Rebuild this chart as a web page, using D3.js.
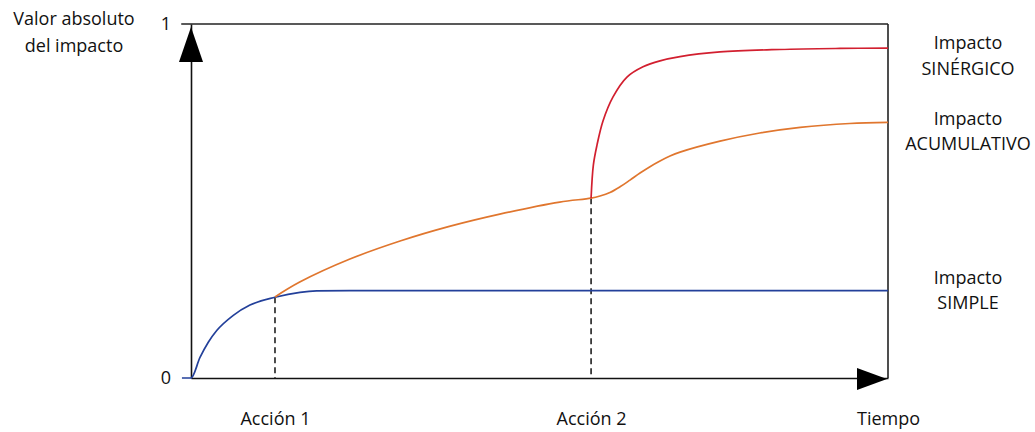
<!DOCTYPE html>
<html>
<head>
<meta charset="utf-8">
<script src="https://d3js.org/d3.v7.min.js"></script>
<style>
  html, body { margin: 0; padding: 0; background: #fff; }
  svg text { font-family: "Open Sans", "Lato", sans-serif; fill: #111; }
</style>
</head>
<body>
<svg id="chart" width="1035" height="432"></svg>
<script>
// Time axis runs 0..100; impact is normalised 0..1
const actions = [
  { label: "Acción 1", t: 12.05 },
  { label: "Acción 2", t: 57.4 }
];
const timeLabel = "Tiempo";

// Impacto SIMPLE
const simpleT = [-1.3, 0, 1.29, 2.48, 3.69, 6.07, 8.46, 12.05, 15.64, 18.03, 22.8, 100];
const simpleV = [0, 0, 0.058, 0.101, 0.134, 0.177, 0.206, 0.228, 0.242, 0.246, 0.247, 0.247];

// Impacto ACUMULATIVO
const cumulT = [12.05, 15.6, 22.8, 30.0, 37.2, 44.3, 52.9, 57.4, 58.68, 60.11, 61.55, 62.98, 64.42, 65.85, 67.29, 68.72, 70.16, 75.9, 81.6, 87.4, 94.5, 100];
const cumulV = [0.229, 0.271, 0.336, 0.387, 0.429, 0.463, 0.497, 0.508, 0.514, 0.524, 0.540, 0.559, 0.579, 0.597, 0.613, 0.627, 0.638, 0.669, 0.692, 0.708, 0.719, 0.722];

// Impacto SINÉRGICO
const synT = [57.4, 57.73, 58.25, 59.11, 60.55, 62.55, 64.85, 67.29, 70.16, 75.9, 84.5, 93.1, 100];
const synV = [0.508, 0.602, 0.658, 0.726, 0.794, 0.850, 0.879, 0.896, 0.908, 0.921, 0.928, 0.931, 0.932];

const yTicks = [0, 1];
const seriesLabels = [
  { lines: ["Impacto", "SINÉRGICO"], color: "#d21f2f", t: synT, v: synV, curve: d3.curveCatmullRom.alpha(0.5) },
  { lines: ["Impacto", "ACUMULATIVO"], color: "#e0762e", t: cumulT, v: cumulV, curve: d3.curveCatmullRom.alpha(0.5) },
  { lines: ["Impacto", "SIMPLE"], color: "#23409a", t: simpleT, v: simpleV, curve: d3.curveMonotoneX }
];
const yTitle = ["Valor absoluto", "del impacto"];

const svg = d3.select("#chart");
const x = d3.scaleLinear().domain([0, 100]).range([191, 888]);
const y = d3.scaleLinear().domain([0, 1]).range([378, 24]);

const fontSize = 18;
const fontFamily = "'Open Sans', Lato, sans-serif";

// Frame: top and right edges
svg.append("line")
  .attr("x1", x(-1.4)).attr("x2", x(100))
  .attr("y1", y(1)).attr("y2", y(1))
  .attr("stroke", "#222").attr("stroke-width", 1.6);
svg.append("line")
  .attr("x1", x(100)).attr("x2", x(100))
  .attr("y1", y(1)).attr("y2", y(0))
  .attr("stroke", "#222").attr("stroke-width", 1.6);

// Y axis
const yAxis = svg.append("g")
  .attr("transform", `translate(${x(0)},0)`)
  .call(d3.axisLeft(y).tickValues(yTicks).tickFormat(d3.format("d")).tickSize(0).tickPadding(20));
yAxis.select(".domain").attr("stroke", "#111").attr("stroke-width", 1.6);
yAxis.selectAll("text").style("font-size", fontSize + "px").style("font-family", fontFamily).attr("fill", "#111");

// X axis with action markers
const xTickVals = actions.map(a => a.t).concat([100]);
const xTickText = actions.map(a => a.label).concat([timeLabel]);
const xAxis = svg.append("g")
  .attr("transform", `translate(0,${y(0)})`)
  .call(d3.axisBottom(x).tickValues(xTickVals)
    .tickFormat((d, i) => xTickText[i]).tickSize(0).tickPadding(34));
xAxis.select(".domain").attr("stroke", "#111").attr("stroke-width", 1.6);
xAxis.selectAll("text").style("font-size", fontSize + "px").style("font-family", fontFamily).attr("fill", "#111");

// Dashed drop lines at each action
const markerVals = [
  simpleV[simpleT.indexOf(actions[0].t)],
  cumulV[cumulT.indexOf(actions[1].t)]
];
svg.selectAll("line.drop").data(actions).join("line")
  .attr("class", "drop")
  .attr("x1", d => x(d.t)).attr("x2", d => x(d.t))
  .attr("y1", (d, i) => y(markerVals[i])).attr("y2", y(0))
  .attr("stroke", "#111").attr("stroke-width", 1.5)
  .attr("stroke-dasharray", "6,4");

// Series curves
svg.selectAll("path.series").data(seriesLabels.slice().reverse()).join("path")
  .attr("class", "series")
  .attr("d", d => d3.line().x(p => x(p[0])).y(p => y(p[1])).curve(d.curve)(d3.zip(d.t, d.v)))
  .attr("fill", "none")
  .attr("stroke", d => d.color)
  .attr("stroke-width", 1.7);

// Arrowheads on the axes
svg.append("path")
  .attr("d", `M${x(0)},${y(1) + 3} L${x(0) + 12},${y(1) + 38} L${x(0) - 12},${y(1) + 38} Z`)
  .attr("fill", "#000");
svg.append("path")
  .attr("d", `M${x(100) - 1},${y(0) + 1} L${x(100) - 31},${y(0) - 10} L${x(100) - 31},${y(0) + 12} Z`)
  .attr("fill", "#000");

// Series labels on the right
const labelY = [[42, 68], [118, 143], [277, 302]];
seriesLabels.forEach((s, i) => {
  s.lines.forEach((ln, j) => {
    svg.append("text")
      .attr("x", 968).attr("y", labelY[i][j])
      .attr("text-anchor", "middle")
      .attr("dominant-baseline", "central")
      .style("font-size", fontSize + "px")
      .text(ln);
  });
});

// Y axis title
yTitle.forEach((ln, j) => {
  svg.append("text")
    .attr("x", 74).attr("y", 18 + j * 27)
    .attr("text-anchor", "middle")
    .attr("dominant-baseline", "central")
    .style("font-size", fontSize + "px")
    .text(ln);
});
</script>
</body>
</html>
